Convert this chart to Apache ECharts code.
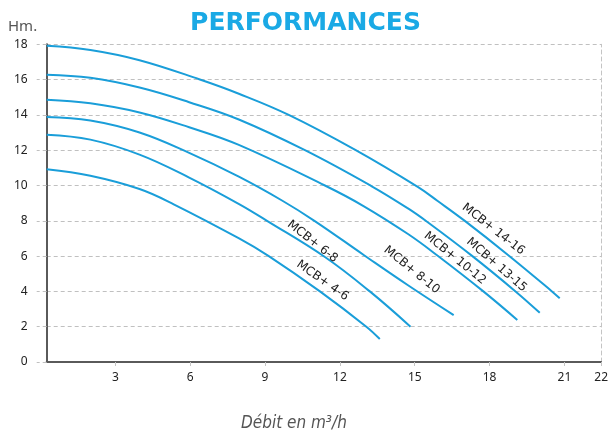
<!DOCTYPE html>
<html><head><meta charset="utf-8">
<script src="https://cdn.jsdelivr.net/npm/echarts@6/dist/echarts.min.js"></script>
<style>html,body{margin:0;padding:0;background:#fff}#c{width:611px;height:435px}</style>
</head><body><div id="c"></div>
<script>
// ---- data ----
const seriesNames = ['MCB+ 4-6', 'MCB+ 6-8', 'MCB+ 8-10', 'MCB+ 10-12', 'MCB+ 13-15', 'MCB+ 14-16'];
const curve4_6   = [[0.25,10.92],[2.0,10.55],[3.97,9.8],[5.36,8.92],[7.96,7.0],[9.15,6.0],[11.2,4.0],[13.06,2.0],[13.6,1.3]];
const curve6_8   = [[0.25,12.88],[2.0,12.6],[3.97,11.75],[5.96,10.45],[7.96,8.95],[9.08,8.0],[11.4,5.95],[13.2,4.0],[14.83,2.0]];
const curve8_10  = [[0.25,13.88],[2.0,13.68],[3.97,13.0],[5.96,11.85],[7.95,10.5],[9.68,9.15],[10.98,8.0],[12.97,6.05],[14.73,4.35],[16.56,2.66]];
const curve10_12 = [[0.25,14.86],[2.0,14.66],[3.97,14.14],[5.96,13.3],[7.95,12.3],[11.4,10.0],[12.93,8.85],[14.73,7.25],[15.92,6.02],[17.75,4.0],[19.11,2.38]];
const curve13_15 = [[0.25,16.28],[2.0,16.1],[3.97,15.55],[5.96,14.72],[7.95,13.74],[10.6,12.0],[13.26,9.97],[14.73,8.7],[15.52,7.92],[17.31,6.0],[19.04,4.0],[20.01,2.79]];
const curve14_16 = [[0.25,17.92],[2.0,17.68],[3.97,17.1],[6.36,16.02],[7.95,15.2],[9.95,14.0],[12.6,12.03],[15.12,9.92],[15.92,9.12],[17.02,7.98],[18.75,6.05],[20.5,4.0],[20.81,3.61]];
const curves = [curve4_6, curve6_8, curve8_10, curve10_12, curve13_15, curve14_16];
// label anchor for each curve name (data coordinates)
const labelAnchors = [[11.30,4.61],[10.90,6.82],[14.88,5.21],[16.61,5.88],[18.28,5.50],[18.15,7.52]];
const labelAngles = [-35, -38, -39, -39, -41, -38];
const xTickValues = [3, 6, 9, 12, 15, 18, 21];
const xEndTickLabel = '22';
const xMin = 0.25, xMax = 22.47;
const yMin = 0, yMax = 18, yStep = 2;
const titleText = 'PERFORMANCES';
const yName = 'Hm.';
const xName = 'Débit en m³/h';

const lineColor = '#1a9ed9';
const chart = echarts.init(document.getElementById('c'), null, {renderer: 'canvas'});
const tickFont = "'Noto Sans', sans-serif";
const xLabelValues = xTickValues.concat([xMax]);

chart.setOption({
  animation: false,
  backgroundColor: '#ffffff',
  title: [
    {text: titleText, left: 'center', top: 6,
     textStyle: {color: '#1aa9e5', fontSize: 25, fontWeight: 'bold', fontFamily: "'DejaVu Sans', sans-serif"}},
    {text: yName, left: 3, top: 14,
     textStyle: {color: '#555', fontSize: 15, fontWeight: 'normal', fontFamily: tickFont}},
    {text: xName, left: 236, top: 410,
     textStyle: {color: '#555', fontSize: 17, fontWeight: 'normal', fontStyle: 'italic',
                 fontFamily: "'Liberation Sans Narrow', 'DejaVu Sans Condensed', Roboto, sans-serif"}}
  ],
  grid: {left: 46.7, right: 6.7, top: 44.3, bottom: 73, containLabel: false},
  xAxis: {
    type: 'value', min: xMin, max: xMax,
    axisLine: {show: true, onZero: false, lineStyle: {color: '#5a5a5a', width: 2}},
    axisTick: {show: true, customValues: xLabelValues, length: 6,
               lineStyle: {color: '#c4c4c4', type: 'dashed'}},
    axisLabel: {customValues: xLabelValues, margin: 10, color: '#222', fontSize: 12, fontFamily: tickFont,
                formatter: v => (v === xMax ? xEndTickLabel : String(v))},
    splitLine: {show: false}
  },
  yAxis: [
    {type: 'value', min: yMin, max: yMax, interval: yStep,
     axisLine: {show: true, onZero: false, lineStyle: {color: '#5a5a5a', width: 2}},
     axisTick: {show: true, length: 10, inside: false, lineStyle: {color: '#c0c0c0', type: [4, 3], width: 1}},
     axisLabel: {margin: 19, color: '#222', fontSize: 12, fontFamily: tickFont},
     splitLine: {show: true, lineStyle: {color: '#c0c0c0', type: [4, 3], width: 1}}},
    {type: 'value', min: yMin, max: yMax, position: 'right',
     axisLine: {show: true, onZero: false, lineStyle: {color: '#c4c4c4', type: [4, 3], width: 1}},
     axisTick: {show: false}, axisLabel: {show: false}, splitLine: {show: false}}
  ],
  series: curves.map((d, i) => ({
    name: seriesNames[i], type: 'line', data: d, yAxisIndex: 0,
    smooth: 0.4, showSymbol: false, symbol: 'none',
    lineStyle: {color: lineColor, width: 2},
    z: 3,
    markPoint: {
      symbol: 'circle', symbolSize: 0, silent: true,
      data: [{coord: labelAnchors[i], value: seriesNames[i]}],
      label: {show: true, position: 'inside', formatter: seriesNames[i], rotate: labelAngles[i],
              color: '#222', fontSize: 12, fontFamily: "'DejaVu Sans', sans-serif"}
    }
  }))
});
</script></body></html>
